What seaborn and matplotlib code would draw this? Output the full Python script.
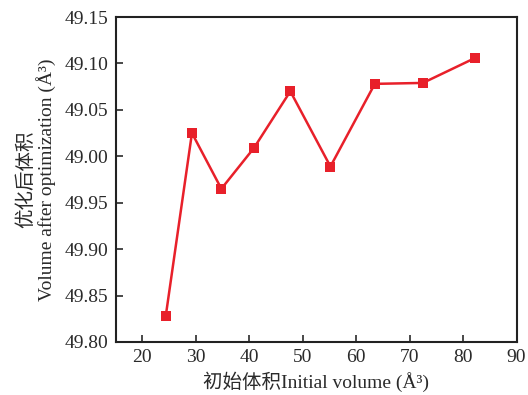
import matplotlib
matplotlib.use("Agg")
import matplotlib.pyplot as plt
import seaborn as sns
import pandas as pd

initial_volume = [24.4, 29.3, 34.8, 40.9, 47.7, 55.2, 63.5, 72.5, 82.3]
optimized_volume = [49.828, 50.025, 49.965, 50.009, 50.070, 49.989, 50.078, 50.079, 50.106]
y_ticks = [49.80, 49.85, 49.90, 49.95, 50.00, 50.05, 50.10, 50.15]
y_tick_labels = ["49.80", "49.85", "49.90", "49.95", "49.00", "49.05", "49.10", "49.15"]
x_ticks = [20, 30, 40, 50, 60, 70, 80, 90]

sns.set_style("ticks")
plt.rcParams['font.family'] = ['Liberation Serif', 'Noto Sans CJK SC', 'DejaVu Sans']
plt.rcParams['xtick.direction'] = 'in'
plt.rcParams['ytick.direction'] = 'in'

df = pd.DataFrame({"x": initial_volume, "y": optimized_volume})

fig = plt.figure(figsize=(5.28, 3.95), dpi=100)
ax = fig.add_axes([115.5/528, 1 - 342/395, (516.5-115.5)/528, (342-17)/395])
sns.lineplot(data=df, x="x", y="y", ax=ax, color="#e8202a", marker="s",
             markersize=7, markeredgewidth=0, linewidth=1.8)
ax.set_xlim(15, 90)
ax.set_ylim(49.80, 50.15)
ax.set_xticks(x_ticks)
ax.set_xticklabels([str(t) for t in x_ticks])
ax.set_yticks(y_ticks)
ax.set_yticklabels(y_tick_labels)
ax.tick_params(axis='both', labelsize=14, length=5, width=1.2, colors='#2a2a2a', pad=5)
for s in ax.spines.values():
    s.set_linewidth(1.5)
    s.set_color('#222222')
ax.set_xlabel("初始体积Initial volume (Å³)", fontsize=14, color='#2a2a2a', labelpad=4)
ax.set_ylabel("优化后体积\nVolume after optimization (Å³)", fontsize=14, color='#2a2a2a',
              labelpad=6, linespacing=1.1)
fig.savefig("out.png", dpi=100)
